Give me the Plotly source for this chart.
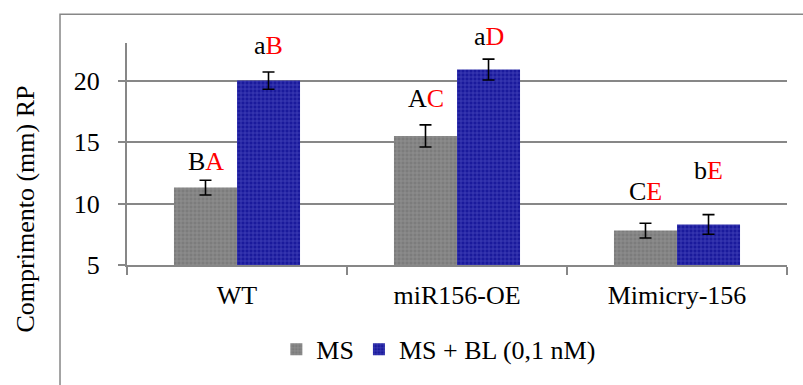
import plotly.graph_objects as go

# Root length by genotype and treatment
genotypes = ["WT", "miR156-OE", "Mimicry-156"]
ms_values = [11.3, 15.5, 7.8]
ms_errors = [0.6, 0.9, 0.6]
bl_values = [20.0, 20.9, 8.3]
bl_errors = [0.7, 0.85, 0.8]

# Significance letters (first letter black, second letter red)
ms_letters = [("B", "A"), ("A", "C"), ("C", "E")]
bl_letters = [("a", "B"), ("a", "D"), ("b", "E")]
ms_shift = [19, 26, 32]
bl_shift = [27, 23, 44]

y_title = "Comprimento (mm) RP"

FONT = "Liberation Serif"
SIZE = 26
AXIS_GREY = "#878787"

fig = go.Figure()
fig.add_trace(go.Bar(
    name="MS", x=genotypes, y=ms_values,
    marker=dict(color="#808080", line=dict(width=0),
                pattern=dict(shape="+", bgcolor="#7c7c7c", fgcolor="#a9a9a9",
                             size=4, solidity=0.35)),
    error_y=dict(type="data", array=ms_errors, color="black", thickness=1.6, width=6),
))
fig.add_trace(go.Bar(
    name="MS + BL (0,1 nM)", x=genotypes, y=bl_values,
    marker=dict(color="#1c1ca6", line=dict(width=0),
                pattern=dict(shape="+", bgcolor="#1a1a9c", fgcolor="#6b6bd6",
                             size=4, solidity=0.35)),
    error_y=dict(type="data", array=bl_errors, color="black", thickness=1.6, width=6),
))

annotations = []
for i, g in enumerate(genotypes):
    for vals, errs, letters, shifts, dx in (
        (ms_values, ms_errors, ms_letters, ms_shift, -31.5),
        (bl_values, bl_errors, bl_letters, bl_shift, 31.5),
    ):
        first, second = letters[i]
        annotations.append(dict(
            x=g, y=vals[i] + errs[i], xref="x", yref="y",
            xshift=dx, yshift=shifts[i], showarrow=False,
            text=f"{first}<span style='color:#ff0000'>{second}</span>",
            font=dict(family=FONT, size=SIZE, color="black"),
            xanchor="center", yanchor="middle",
        ))

# Vertical axis title, centred on the chart area rather than the plot area
annotations.append(dict(
    text=y_title, xref="paper", yref="paper", x=-0.1545, y=0.25,
    xanchor="center", yanchor="middle", textangle=-90, showarrow=False,
    font=dict(family=FONT, size=SIZE, color="black"),
))

fig.update_layout(
    width=803, height=385,
    margin=dict(l=127, r=16, t=43, b=118),
    paper_bgcolor="white", plot_bgcolor="white",
    barmode="group", bargap=0.427, bargroupgap=0,
    font=dict(family=FONT, size=SIZE, color="black"),
    showlegend=True,
    legend=dict(orientation="h", x=0.4725, xanchor="center", y=-0.38, yanchor="middle",
                font=dict(family=FONT, size=SIZE, color="black"),
                itemwidth=30, bgcolor="rgba(0,0,0,0)"),
    annotations=annotations,
    shapes=[dict(type="rect", xref="paper", yref="paper",
                 x0=-0.1015, x1=1.2, y0=-0.7, y1=1.1295,
                 line=dict(color=AXIS_GREY, width=1.5), layer="below")],
    xaxis=dict(showline=True, linecolor=AXIS_GREY, linewidth=2,
               ticks="outside", tickson="boundaries", ticklen=8, tickwidth=2,
               tickcolor=AXIS_GREY, tickfont=dict(family=FONT, size=SIZE),
               ticklabelstandoff=6, showgrid=False),
    yaxis=dict(range=[5, 23.06], tickvals=[5, 10, 15, 20], showline=True,
               linecolor=AXIS_GREY, linewidth=2, ticks="outside", ticklen=7,
               tickwidth=2, tickcolor=AXIS_GREY, showgrid=True,
               gridcolor=AXIS_GREY, gridwidth=2, zeroline=False,
               tickfont=dict(family=FONT, size=SIZE), ticklabelstandoff=13),
)

fig.write_html("out.html")
